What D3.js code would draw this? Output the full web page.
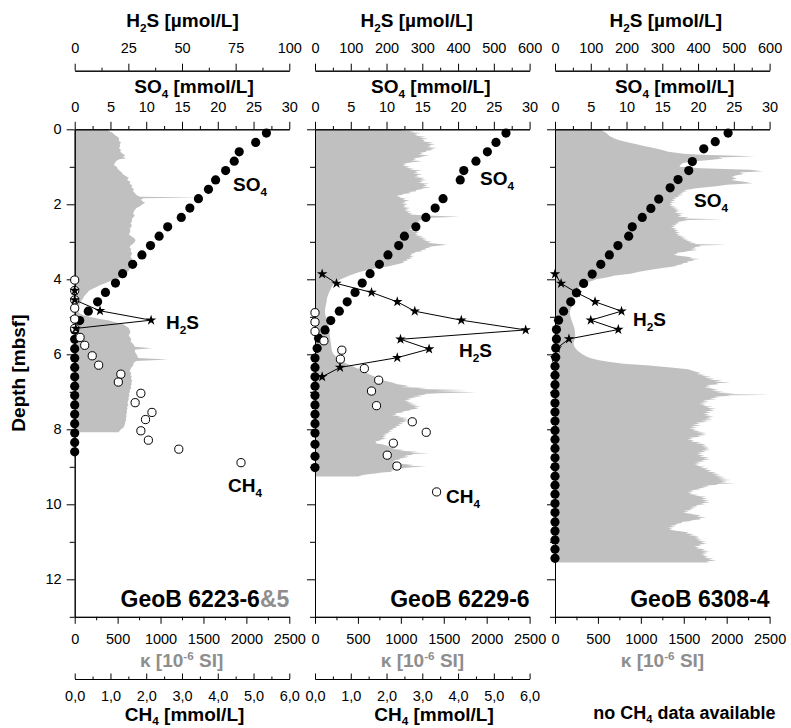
<!DOCTYPE html>
<html>
<head>
<meta charset="utf-8">
<script src="https://cdn.jsdelivr.net/npm/d3@7"></script>
<style>
  body { margin: 0; background: #fff; }
  svg { display: block; font-family: "Liberation Sans", Arial, Helvetica, sans-serif; }
</style>
</head>
<body>
<svg id="chart" width="791" height="728"></svg>
<script>
// ---------------- axis ticks ----------------
const depthMajor = [0, 2, 4, 6, 8, 10, 12];
const depthMinor = [1, 3, 5, 7, 9, 11, 13];
const so4Major = [0, 5, 10, 15, 20, 25, 30];
const so4Minor = [2.5, 7.5, 12.5, 17.5, 22.5, 27.5];
const h2sMajorLow = [0, 25, 50, 75, 100];
const h2sMinorLow = [12.5, 37.5, 62.5, 87.5];
const h2sMajorHigh = [0, 100, 200, 300, 400, 500, 600];
const h2sMinorHigh = [50, 150, 250, 350, 450, 550];
const kappaMajor = [0, 500, 1000, 1500, 2000, 2500];
const kappaMinor = [250, 750, 1250, 1750, 2250];
const ch4Major = [0, 1, 2, 3, 4, 5, 6];
const ch4Minor = [0.5, 1.5, 2.5, 3.5, 4.5, 5.5];

// ---------------- core names ----------------
const coreNames = ["GeoB 6223-6", "GeoB 6229-6", "GeoB 6308-4"];
const coreSuffix = ["&5", "", ""];
const h2sMax = [100, 600, 600];

// ---------------- GeoB 6223 ----------------
const so4Depth6223 = [0.1,0.35,0.6,0.85,1.1,1.35,1.6,1.85,2.1,2.35,2.6,2.85,3.1,3.35,3.6,3.85,4.1,4.35,4.6,4.85,5.1,5.35,5.6,5.85,6.1,6.35,6.6,6.85,7.1,7.35,7.6,7.85,8.1,8.35,8.6];
const so4_6223 = [26.8,25.3,23.0,22.3,21.1,19.7,18.7,17.3,16.1,14.9,13.0,11.8,10.6,9.4,8.1,6.7,5.7,4.3,3.2,1.9,0.7,0,0,0,0,0,0,0,0,0,0,0,0,0,0];
const ch4Depth6223 = [4.02,4.3,4.55,4.77,5.06,5.31,5.55,5.76,6.04,6.29,6.53,6.74,7.04,7.29,7.55,7.74,8.04,8.29,8.53,8.89];
const ch4_6223 = [0,0,0,0,0,0,0.15,0.28,0.49,0.67,1.29,1.22,1.85,1.69,2.16,1.98,1.85,2.06,2.91,4.65];
const h2sDepth6223 = [4.3,4.55,4.84,5.09,5.31];
const h2s6223 = [0,0,11.8,35.6,0.5];
const kappa6223 = [
  [0,400],[0.04,390],[0.08,430],[0.12,455],[0.16,470],[0.2,500],[0.25,520],[0.3,510],[0.35,540],[0.4,525],
  [0.45,530],[0.5,515],[0.55,540],[0.6,530],[0.65,560],[0.7,590],[0.73,560],[0.77,600],[0.8,520],[0.85,480],
  [0.9,470],[0.95,455],[1.0,490],[1.05,500],[1.1,520],[1.15,550],[1.2,560],[1.25,600],[1.3,630],[1.35,610],
  [1.4,650],[1.45,640],[1.5,670],[1.55,660],[1.6,690],[1.65,680],[1.7,700],[1.75,720],[1.8,760],[1.82,1480],
  [1.84,800],[1.88,770],[1.92,790],[1.96,820],[2.0,790],[2.05,760],[2.1,720],[2.15,700],[2.2,690],[2.25,680],
  [2.3,700],[2.35,680],[2.4,665],[2.45,670],[2.5,650],[2.55,665],[2.6,660],[2.65,640],[2.7,650],[2.75,645],
  [2.8,630],[2.85,660],[2.9,690],[2.95,710],[3.0,700],[3.05,680],[3.1,650],[3.15,640],[3.2,660],[3.25,650],
  [3.3,670],[3.35,660],[3.4,650],[3.45,670],[3.5,660],[3.55,645],[3.6,650],[3.65,640],[3.7,650],[3.75,635],
  [3.8,620],[3.85,600],[3.9,580],[3.95,540],[4.0,470],[4.05,410],[4.1,360],[4.15,300],[4.2,260],[4.25,210],
  [4.3,170],[4.35,150],[4.4,130],[4.45,110],[4.5,100],[4.55,85],[4.6,70],[4.65,60],[4.7,52],[4.75,48],
  [4.8,45],[4.85,43],[4.9,50],[4.95,90],[5.0,170],[5.05,280],[5.1,400],[5.15,480],[5.2,560],[5.25,600],
  [5.3,630],[5.35,640],[5.4,650],[5.45,640],[5.5,630],[5.55,645],[5.6,660],[5.65,650],[5.7,670],[5.75,690],
  [5.8,700],[5.84,900],[5.87,710],[5.9,700],[5.95,705],[6.0,720],[6.05,730],[6.1,740],[6.14,1090],[6.18,720],
  [6.22,690],[6.3,680],[6.35,660],[6.4,650],[6.45,640],[6.5,660],[6.55,650],[6.6,665],[6.65,655],[6.7,670],
  [6.75,660],[6.8,665],[6.85,650],[6.9,660],[6.95,640],[7.0,645],[7.05,630],[7.1,640],[7.15,625],[7.2,630],
  [7.25,620],[7.3,615],[7.35,625],[7.4,610],[7.45,615],[7.5,605],[7.55,610],[7.6,600],[7.65,605],[7.7,595],
  [7.75,600],[7.8,590],[7.85,585],[7.9,580],[7.95,570],[8.0,540],[8.05,520],[8.08,510]
];

// ---------------- GeoB 6229 ----------------
const so4Depth6229 = [0.1,0.35,0.6,0.85,1.1,1.35,1.85,2.1,2.35,2.6,2.85,3.1,3.35,3.6,3.85,4.1,4.35,4.6,4.85,5.1,5.35,5.57,5.84,6.1,6.35,6.6,6.85,7.1,7.35,7.6,7.85,8.1,8.4,8.72,9.02];
const so4_6229 = [26.7,25.3,24.1,22.5,20.8,20.3,17.9,16.8,15.5,14.1,12.5,11.7,10.2,9.0,7.7,6.6,5.6,4.5,3.4,2.2,1.4,0.5,0.3,0,0,0,0,0,0,0,0,0,0,0,0];
const ch4Depth6229 = [4.89,5.14,5.39,5.64,5.89,6.13,6.38,6.69,6.98,7.37,7.8,8.08,8.37,8.69,8.98,9.67];
const ch4_6229 = [0,0,0,0.25,0.75,0.71,1.38,1.78,1.58,1.72,2.72,3.11,2.19,2.02,2.29,3.4];
const h2sDepth6229 = [3.86,4.11,4.35,4.6,4.85,5.09,5.35,5.6,5.86,6.09,6.35,6.6];
const h2s6229 = [20,60,158,230,279,409,589,239,319,230,70,20];
const kappa6229 = [
  [0,1050],[0.025,1000],[0.05,1150],[0.075,1100],[0.1,1230],[0.125,1150],[0.15,1200],[0.175,1170],[0.2,1290],[0.225,1220],
  [0.25,1320],[0.275,1240],[0.3,1280],[0.325,1260],[0.35,1380],[0.375,1300],[0.4,1400],[0.425,1330],[0.45,1350],[0.475,1300],
  [0.5,1420],[0.525,1340],[0.55,1380],[0.575,1290],[0.6,1300],[0.625,1220],[0.65,1260],[0.675,1200],[0.7,1330],[0.725,1250],
  [0.75,1220],[0.775,1150],[0.8,1180],[0.825,1120],[0.85,1250],[0.875,1150],[0.9,1080],[0.925,1030],[0.95,1060],[0.975,1020],
  [1.0,1110],[1.025,1060],[1.05,1150],[1.075,1100],[1.1,1240],[1.125,1160],[1.15,1200],[1.175,1140],[1.2,1250],[1.225,1180],
  [1.25,1210],[1.275,1150],[1.3,1280],[1.325,1220],[1.35,1300],[1.375,1220],[1.4,1260],[1.425,1200],[1.45,1330],[1.475,1260],
  [1.5,1310],[1.525,1250],[1.55,1350],[1.575,1260],[1.6,1240],[1.625,1170],[1.65,1180],[1.675,1090],[1.7,1120],[1.725,1030],
  [1.75,1010],[1.775,950],[1.8,980],[1.825,1000],[1.85,1060],[1.875,1020],[1.9,1100],[1.925,1040],[1.95,1050],[1.975,1010],
  [2.0,1080],[2.025,1030],[2.05,1060],[2.075,1020],[2.1,1110],[2.125,1050],[2.15,1090],[2.175,1040],[2.2,1120],[2.225,1070],
  [2.25,1140],[2.275,1100],[2.3,1300],[2.33,1680],[2.36,1350],[2.38,1250],[2.4,1290],[2.425,1200],[2.45,1240],[2.475,1170],
  [2.5,1220],[2.525,1150],[2.55,1200],[2.575,1120],[2.6,1160],[2.625,1100],[2.65,1130],[2.675,1090],[2.7,1170],[2.725,1130],
  [2.75,1220],[2.775,1160],[2.8,1200],[2.825,1170],[2.85,1260],[2.875,1200],[2.9,1290],[2.925,1240],[2.95,1310],[2.975,1270],
  [3.0,1360],[3.025,1310],[3.05,1420],[3.08,1540],[3.11,1400],[3.13,1330],[3.15,1340],[3.175,1280],[3.2,1300],[3.225,1230],
  [3.25,1250],[3.275,1170],[3.3,1160],[3.325,1110],[3.35,1140],[3.375,1100],[3.4,1150],[3.425,1090],[3.45,1130],[3.475,1060],
  [3.5,1080],[3.525,1020],[3.55,1040],[3.6,960],[3.65,860],[3.7,730],[3.75,620],[3.8,530],[3.85,460],[3.9,400],
  [3.95,350],[4.0,300],[4.05,260],[4.1,230],[4.15,210],[4.2,195],[4.3,175],[4.4,155],[4.5,140],[4.6,135],
  [4.7,125],[4.8,118],[4.9,115],[5.0,125],[5.1,140],[5.2,155],[5.3,160],[5.4,170],[5.5,172],[5.6,178],
  [5.7,185],[5.8,190],[5.9,195],[6.0,215],[6.05,240],[6.1,260],[6.15,300],[6.2,330],[6.25,370],[6.3,420],
  [6.35,470],[6.4,520],[6.45,560],[6.5,600],[6.55,650],[6.6,700],[6.65,720],[6.7,800],[6.75,900],[6.8,960],
  [6.825,1050],[6.85,1100],[6.875,1000],[6.9,1300],[6.925,1200],[6.95,1760],[6.98,1400],[7.01,1880],[7.04,1450],[7.06,1250],
  [7.08,1300],[7.1,1180],[7.12,1250],[7.14,1120],[7.16,1180],[7.18,1080],[7.2,1120],[7.225,1040],[7.25,1100],[7.275,1060],
  [7.3,1150],[7.325,1090],[7.35,1200],[7.375,1130],[7.4,1230],[7.425,1150],[7.45,1210],[7.475,1120],[7.5,1100],[7.525,1020],
  [7.55,1020],[7.575,940],[7.6,950],[7.625,900],[7.65,1000],[7.675,960],[7.7,1080],[7.725,1010],[7.75,1110],[7.775,1030],
  [7.8,1060],[7.825,980],[7.85,1030],[7.875,960],[7.9,1000],[7.925,930],[7.95,960],[7.975,900],[8.0,920],[8.025,860],
  [8.05,900],[8.075,840],[8.1,870],[8.125,800],[8.15,840],[8.175,790],[8.2,820],[8.225,780],[8.25,830],[8.275,770],
  [8.3,760],[8.325,700],[8.35,720],[8.375,700],[8.4,780],[8.425,820],[8.45,880],[8.475,850],[8.5,930],[8.525,900],
  [8.55,1050],[8.575,980],[8.6,1200],[8.62,1100],[8.64,1330],[8.66,1120],[8.68,1150],[8.7,1040],[8.72,1100],[8.74,1010],
  [8.76,1080],[8.78,980],[8.8,1000],[8.825,920],[8.85,950],[8.875,900],[8.9,960],[8.925,1020],[8.95,1150],[8.97,1080],
  [8.99,1300],[9.01,1120],[9.03,1050],[9.055,980],[9.08,950],[9.105,880],[9.13,900],[9.155,780],[9.18,700],[9.2,620],
  [9.22,560],[9.26,500]
];

// ---------------- GeoB 6308 ----------------
const so4Depth6308 = [0.1,0.33,0.52,0.86,1.1,1.34,1.56,1.86,2.11,2.35,2.6,2.85,3.1,3.35,3.6,3.86,4.11,4.36,4.6,4.85,5.09,5.34,5.59,5.83,6.08,6.32,6.56,6.81,7.05,7.3,7.54,7.78,8.03,8.27,8.51,8.76,9.0,9.25,9.49,9.73,9.98,10.22,10.47,10.71,10.95,11.2,11.44];
const so4_6308 = [24.2,22.4,20.8,19.2,18.7,17.2,16.1,14.5,13.4,12.2,10.8,10.3,8.8,7.6,6.4,5.2,4.0,3.0,2.2,1.2,0.5,0.2,0.2,0.1,0.1,0,0,0,0,0,0,0,0,0,0,0,0,0,0,0,0,0,0,0,0,0,0];
const h2sDepth6308 = [3.86,4.11,4.36,4.6,4.85,5.09,5.34,5.59,5.84,6.09];
const h2s6308 = [0,17,61,112,186,100,177,39,5,0];
const kappa6308 = [
  [0,540],[0.05,560],[0.1,600],[0.15,620],[0.2,650],[0.25,700],[0.3,760],[0.35,860],[0.4,950],[0.45,1050],
  [0.5,1150],[0.55,1250],[0.6,1320],[0.65,1500],[0.68,1700],[0.72,2330],[0.75,1900],[0.78,1960],[0.82,1800],[0.86,1600],
  [0.9,1490],[0.95,1460],[1.0,1450],[1.04,1700],[1.08,2270],[1.12,2420],[1.15,2150],[1.19,2200],[1.23,2100],[1.27,2060],
  [1.31,2120],[1.35,2050],[1.4,2200],[1.44,2300],[1.48,2000],[1.52,1880],[1.56,1700],[1.58,1620],[1.6,1580],[1.625,1500],
  [1.65,1540],[1.675,1470],[1.7,1500],[1.725,1440],[1.75,1490],[1.775,1420],[1.8,1450],[1.825,1380],[1.85,1420],[1.875,1360],
  [1.9,1400],[1.925,1340],[1.95,1390],[1.975,1330],[2.0,1370],[2.025,1330],[2.05,1400],[2.075,1350],[2.1,1430],[2.125,1380],
  [2.15,1460],[2.175,1400],[2.2,1440],[2.225,1390],[2.25,1500],[2.275,1430],[2.3,1480],[2.325,1420],[2.35,1560],[2.38,1500],
  [2.4,1960],[2.42,1550],[2.45,1480],[2.475,1420],[2.5,1450],[2.525,1390],[2.55,1420],[2.575,1360],[2.6,1400],[2.625,1350],
  [2.65,1420],[2.675,1380],[2.7,1440],[2.725,1390],[2.75,1460],[2.775,1400],[2.8,1450],[2.825,1420],[2.85,1500],[2.875,1450],
  [2.9,1530],[2.925,1480],[2.95,1560],[2.975,1520],[3.0,1600],[3.02,1560],[3.04,1650],[3.06,1600],[3.08,2000],[3.1,1680],
  [3.12,1700],[3.145,1620],[3.17,1640],[3.195,1580],[3.22,1660],[3.245,1560],[3.27,1500],[3.295,1420],[3.32,1420],[3.345,1380],
  [3.37,1440],[3.395,1520],[3.42,1600],[3.44,1560],[3.46,1690],[3.48,1600],[3.5,1620],[3.525,1540],[3.55,1550],[3.575,1490],
  [3.6,1480],[3.625,1420],[3.65,1400],[3.7,1250],[3.75,1100],[3.8,980],[3.85,880],[3.9,700],[3.95,600],[4.0,480],
  [4.05,420],[4.1,360],[4.15,320],[4.2,290],[4.25,260],[4.3,240],[4.4,220],[4.5,212],[4.6,210],[4.7,205],
  [4.8,180],[4.9,172],[5.0,180],[5.1,195],[5.2,210],[5.3,225],[5.4,232],[5.5,235],[5.6,230],[5.7,215],
  [5.8,225],[5.9,260],[6.0,320],[6.05,360],[6.1,410],[6.15,500],[6.2,620],[6.25,800],[6.3,1100],[6.35,1350],
  [6.4,1550],[6.45,1620],[6.5,1700],[6.525,1650],[6.55,1760],[6.575,1700],[6.6,1820],[6.625,1740],[6.65,1860],[6.675,1790],
  [6.7,1950],[6.725,1850],[6.75,2050],[6.775,1880],[6.8,1900],[6.825,1760],[6.85,1820],[6.875,1740],[6.9,1800],[6.925,1850],
  [6.95,1900],[6.975,1820],[7.0,1960],[7.02,1880],[7.04,2100],[7.06,1950],[7.08,2500],[7.095,2050],[7.11,2000],[7.13,1860],
  [7.15,1900],[7.175,1800],[7.2,1880],[7.225,1720],[7.25,1800],[7.275,1700],[7.3,1770],[7.325,1680],[7.35,1760],[7.375,1720],
  [7.4,1830],[7.425,1760],[7.45,1880],[7.475,1790],[7.5,1860],[7.525,1750],[7.55,1820],[7.575,1720],[7.6,1800],[7.625,1740],
  [7.65,1850],[7.675,1770],[7.7,1830],[7.725,1740],[7.75,1840],[7.775,1700],[7.8,1780],[7.825,1640],[7.85,1690],[7.875,1600],
  [7.9,1700],[7.925,1580],[7.95,1660],[7.975,1560],[8.0,1640],[8.025,1600],[8.05,1700],[8.075,1640],[8.1,1760],[8.125,1690],
  [8.15,1770],[8.175,1650],[8.2,1700],[8.225,1560],[8.25,1610],[8.275,1540],[8.3,1620],[8.325,1580],[8.35,1700],[8.375,1640],
  [8.4,1760],[8.425,1700],[8.45,1780],[8.475,1720],[8.5,1800],[8.525,1740],[8.55,1810],[8.575,1700],[8.6,1760],[8.625,1660],
  [8.65,1720],[8.675,1650],[8.7,1740],[8.725,1680],[8.75,1800],[8.775,1720],[8.8,1810],[8.825,1700],[8.85,1750],[8.875,1640],
  [8.9,1700],[8.925,1620],[8.95,1680],[8.975,1640],[9.0,1750],[9.025,1690],[9.05,1800],[9.075,1740],[9.1,1830],[9.125,1770],
  [9.15,1880],[9.175,1820],[9.2,1920],[9.225,1850],[9.25,1960],[9.275,1880],[9.3,2000],[9.325,1900],[9.35,2050],[9.375,1930],
  [9.4,2000],[9.42,1920],[9.44,2100],[9.46,1880],[9.48,1900],[9.5,1760],[9.52,1800],[9.54,1700],[9.56,1760],[9.58,1660],
  [9.6,1700],[9.625,1580],[9.65,1620],[9.675,1540],[9.7,1600],[9.725,1560],[9.75,1680],[9.775,1620],[9.8,1760],[9.825,1700],
  [9.85,1780],[9.875,1700],[9.9,1800],[9.925,1720],[9.95,1810],[9.975,1700],[10.0,1750],[10.025,1640],[10.05,1660],[10.075,1580],
  [10.1,1640],[10.125,1560],[10.15,1600],[10.175,1500],[10.2,1560],[10.225,1490],[10.25,1580],[10.275,1620],[10.3,1700],[10.325,1650],
  [10.35,1760],[10.375,1680],[10.4,1700],[10.425,1600],[10.45,1560],[10.475,1470],[10.5,1480],[10.525,1400],[10.55,1420],[10.575,1340],
  [10.6,1400],[10.625,1320],[10.65,1370],[10.675,1330],[10.7,1390],[10.725,1480],[10.75,1560],[10.775,1520],[10.8,1620],[10.825,1560],
  [10.85,1680],[10.875,1620],[10.9,1690],[10.925,1640],[10.95,1720],[10.975,1660],[11.0,1760],[11.025,1700],[11.05,1770],[11.075,1680],
  [11.1,1700],[11.125,1620],[11.15,1680],[11.175,1640],[11.2,1750],[11.225,1700],[11.25,1800],[11.275,1720],[11.3,1780],[11.325,1700],
  [11.35,1760],[11.375,1720],[11.4,1790],[11.425,1740],[11.45,1850],[11.475,1780],[11.5,1880],[11.525,1760],[11.55,1800]
];

// ---------------- tables built from the arrays ----------------
const zip = (ds, vs) => ds.map((d, i) => ({ depth: d, value: vs[i] }));
const pairs = arr => arr.map(([d, k]) => ({ depth: d, value: k }));
const cores = [
  { so4: zip(so4Depth6223, so4_6223), ch4: zip(ch4Depth6223, ch4_6223), h2s: zip(h2sDepth6223, h2s6223), kappa: pairs(kappa6223) },
  { so4: zip(so4Depth6229, so4_6229), ch4: zip(ch4Depth6229, ch4_6229), h2s: zip(h2sDepth6229, h2s6229), kappa: pairs(kappa6229) },
  { so4: zip(so4Depth6308, so4_6308), ch4: null, h2s: zip(h2sDepth6308, h2s6308), kappa: pairs(kappa6308) }
];

// ---------------- layout ----------------
const svg = d3.select("#chart");
const panelLeft = [74.7, 315, 555];
const panelWidth = 214.6;
const yTop = 129.3, yBottom = 616.8;
const h2sAxisY = 70.7, ch4AxisY = 679;
const GREY_FILL = "#c0c0c0";
const GREY_TEXT = "#8e8e8e";

const yDepth = d3.scaleLinear().domain([0, 13]).range([yTop, yBottom]);

function styleAxis(g, fontSize) {
  g.attr("font-family", null).attr("font-size", null);
  g.selectAll(".domain").attr("stroke", "#000").attr("stroke-width", 1);
  g.selectAll(".tick line").attr("stroke", "#000").attr("stroke-width", 1);
  g.selectAll(".tick text").attr("fill", "#000").style("font-size", fontSize + "px");
}

// minor ticks (unlabelled) and major ticks (labelled) for one axis
function drawAxis(transform, axisMaker, scale, majors, minors, majorLen, minorLen, pad, fmt) {
  const g = svg.append("g").attr("transform", transform);
  const gMinor = g.append("g").call(
    axisMaker(scale).tickValues(minors).tickSize(minorLen).tickSizeOuter(0).tickFormat(""));
  const gMajor = g.append("g").call(
    axisMaker(scale).tickValues(majors).tickSize(majorLen).tickSizeOuter(0).tickPadding(pad).tickFormat(fmt));
  styleAxis(gMinor, 14.5);
  styleAxis(gMajor, 14.5);
  return gMajor;
}

// text built from parts: [text, "sub"|"sup"|undefined, colour]
function richText(x, y, parts, size, anchor, weight, color, subDrop) {
  const drop = subDrop === undefined ? 5 : subDrop;
  const t = svg.append("text")
    .attr("x", x).attr("y", y)
    .attr("text-anchor", anchor || "start")
    .attr("font-weight", weight || "bold")
    .style("font-size", size + "px")
    .attr("fill", color || "#000");
  let shift = 0;
  parts.forEach(([s, kind, col]) => {
    const target = kind === "sub" ? drop : kind === "sup" ? -7 : 0;
    const ts = t.append("tspan").text(s).attr("dy", target - shift);
    if (kind) ts.style("font-size", (size * 0.62) + "px");
    if (col) ts.attr("fill", col);
    shift = target;
  });
  return t;
}

const intFmt = d3.format("d");
const commaFmt = d => d.toFixed(1).replace(".", ",");

// title centres and in-plot label anchors per panel
const h2sTitleX = [182.5, 416.7, 665.8];
const so4TitleX = [194, 430.8, 674.7];
const kappaTitleX = [181.7, 422.5, 662.5];
const ch4TitleX = [184.6, 434, 684.5];
const so4LabelPos = [[233, 191], [480, 185], [694, 207]];
const h2sLabelPos = [[166, 329], [459, 357], [633, 326]];
const ch4LabelPos = [[228, 492], [446, 503], null];

cores.forEach((core, i) => {
  const left = panelLeft[i];
  const so4X = d3.scaleLinear().domain([0, 30]).range([left, left + panelWidth]);
  const h2sX = d3.scaleLinear().domain([0, h2sMax[i]]).range([left, left + panelWidth]);
  const kappaX = d3.scaleLinear().domain([0, 2500]).range([left, left + panelWidth]);
  const ch4X = d3.scaleLinear().domain([0, 6]).range([left, left + panelWidth]);

  // magnetic susceptibility profile
  svg.append("path")
    .datum(core.kappa)
    .attr("fill", GREY_FILL)
    .attr("stroke", "none")
    .attr("d", d3.area()
      .y(d => yDepth(d.depth))
      .x0(kappaX(0))
      .x1(d => kappaX(d.value))
      .curve(d3.curveLinear));

  // H2S axis (top)
  const h2sMaj = i === 0 ? h2sMajorLow : h2sMajorHigh;
  const h2sMin = i === 0 ? h2sMinorLow : h2sMinorHigh;
  drawAxis(`translate(0,${h2sAxisY})`, d3.axisTop, h2sX, h2sMaj, h2sMin, 7, 3, 10.4, intFmt);
  // SO4 axis (top of frame)
  drawAxis(`translate(0,${yTop})`, d3.axisTop, so4X, so4Major, so4Minor, 7.5, 3.3, 10.1, intFmt);
  // kappa axis (bottom of frame)
  drawAxis(`translate(0,${yBottom})`, d3.axisBottom, kappaX, kappaMajor, kappaMinor, 7, 3.5, 9.9, intFmt);
  // depth axis (left)
  drawAxis(`translate(${left},0)`, d3.axisLeft, yDepth, depthMajor, depthMinor, 8, 5, 5,
    i === 0 ? intFmt : () => "");
  // CH4 axis (below)
  if (core.ch4) {
    drawAxis(`translate(0,${ch4AxisY})`, d3.axisBottom, ch4X, ch4Major, ch4Minor, -5.5, -2.5, 12.2, commaFmt);
  }

  // SO4 profile
  svg.append("g").selectAll("circle").data(core.so4).join("circle")
    .attr("cx", d => so4X(d.value)).attr("cy", d => yDepth(d.depth))
    .attr("r", 4.6).attr("fill", "#000");

  // CH4 profile
  if (core.ch4) {
    svg.append("g").selectAll("circle").data(core.ch4).join("circle")
      .attr("cx", d => ch4X(d.value)).attr("cy", d => yDepth(d.depth))
      .attr("r", 4.1).attr("fill", "#fff").attr("stroke", "#000").attr("stroke-width", 1);
  }

  // H2S profile
  svg.append("path").datum(core.h2s)
    .attr("fill", "none").attr("stroke", "#000").attr("stroke-width", 1)
    .attr("d", d3.line().x(d => h2sX(d.value)).y(d => yDepth(d.depth)));
  svg.append("g").selectAll("path").data(core.h2s).join("path")
    .attr("transform", d => `translate(${h2sX(d.value)},${yDepth(d.depth)})`)
    .attr("d", d3.symbol(d3.symbolStar, 34))
    .attr("fill", "#000");

  // axis titles
  richText(h2sTitleX[i], 27, [["H"], ["2", "sub"], ["S"], [" [µmol/L]"]], 19, "middle");
  richText(so4TitleX[i], 93, [["SO"], ["4", "sub"], [" [mmol/L]"]], 19, "middle");
  richText(kappaTitleX[i], 667, [["κ [10"], ["-6", "sup"], [" SI]"]], 19, "middle", "bold", GREY_TEXT);
  if (core.ch4) {
    richText(ch4TitleX[i], 721, [["CH"], ["4", "sub"], [" [mmol/L]"]], 19, "middle", "bold", "#000", 4);
  } else {
    richText(ch4TitleX[i], 719, [["no CH"], ["4", "sub"], [" data available"]], 18, "middle", "bold", "#000", 4);
  }

  // in-plot series labels
  richText(so4LabelPos[i][0], so4LabelPos[i][1], [["SO"], ["4", "sub"]], 19, "start");
  richText(h2sLabelPos[i][0], h2sLabelPos[i][1], [["H"], ["2", "sub"], ["S"]], 19, "start");
  if (ch4LabelPos[i]) {
    richText(ch4LabelPos[i][0], ch4LabelPos[i][1], [["CH"], ["4", "sub"]], 19, "start");
  }

  // core name
  const nameParts = [[coreNames[i]]];
  if (coreSuffix[i]) nameParts.push([coreSuffix[i], undefined, GREY_TEXT]);
  richText(left + panelWidth, 606.7, nameParts, 23, "end");
});

// depth title
svg.append("text")
  .attr("transform", `translate(25,${(yTop + yBottom) / 2}) rotate(-90)`)
  .attr("text-anchor", "middle")
  .attr("font-weight", "bold")
  .style("font-size", "19px")
  .text("Depth [mbsf]");
</script>
</body>
</html>
